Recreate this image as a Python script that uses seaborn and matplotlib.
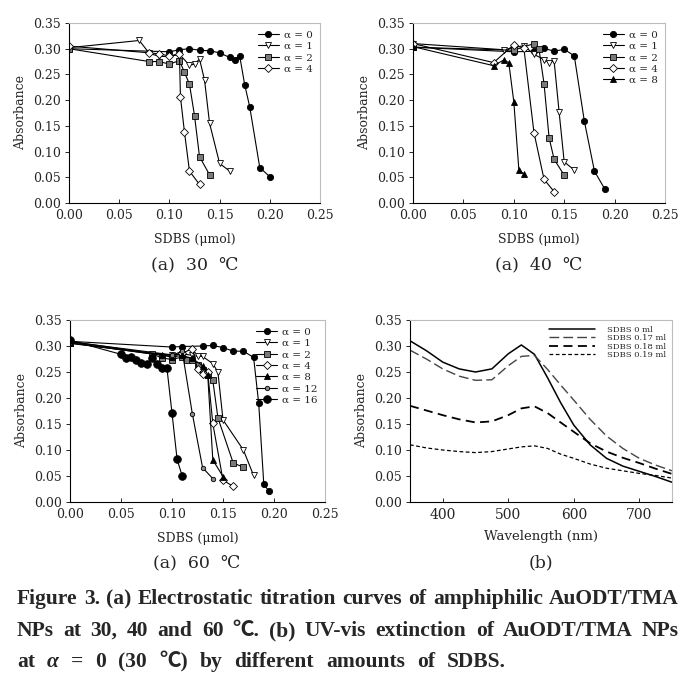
import pandas as pd
import matplotlib
matplotlib.use("Agg")
import matplotlib.pyplot as plt
import seaborn as sns

# ---- titration data, 30 C ----
x30_a0 = [0, 0.10, 0.11, 0.12, 0.13, 0.14, 0.15, 0.16, 0.165, 0.17, 0.175, 0.18, 0.19, 0.20]
y30_a0 = [0.300, 0.294, 0.298, 0.300, 0.297, 0.296, 0.292, 0.283, 0.279, 0.286, 0.230, 0.187, 0.069, 0.051]
x30_a1 = [0, 0.07, 0.08, 0.09, 0.10, 0.11, 0.12, 0.125, 0.13, 0.135, 0.14, 0.15, 0.16]
y30_a1 = [0.302, 0.316, 0.291, 0.285, 0.285, 0.289, 0.268, 0.270, 0.280, 0.239, 0.155, 0.077, 0.062]
x30_a2 = [0, 0.08, 0.09, 0.10, 0.11, 0.115, 0.12, 0.125, 0.13, 0.14]
y30_a2 = [0.300, 0.275, 0.275, 0.270, 0.277, 0.254, 0.231, 0.170, 0.090, 0.055]
x30_a4 = [0, 0.08, 0.09, 0.10, 0.11, 0.111, 0.115, 0.12, 0.13]
y30_a4 = [0.305, 0.292, 0.290, 0.286, 0.290, 0.206, 0.138, 0.062, 0.036]

# ---- titration data, 40 C ----
x40_a0 = [0, 0.10, 0.12, 0.13, 0.14, 0.15, 0.16, 0.17, 0.18, 0.19]
y40_a0 = [0.303, 0.294, 0.295, 0.301, 0.295, 0.299, 0.286, 0.159, 0.062, 0.028]
x40_a1 = [0, 0.09, 0.11, 0.12, 0.13, 0.135, 0.14, 0.145, 0.15, 0.16]
y40_a1 = [0.310, 0.298, 0.306, 0.289, 0.279, 0.273, 0.276, 0.176, 0.080, 0.064]
x40_a2 = [0, 0.10, 0.12, 0.125, 0.13, 0.135, 0.14, 0.15]
y40_a2 = [0.303, 0.297, 0.310, 0.299, 0.232, 0.127, 0.085, 0.054]
x40_a4 = [0, 0.08, 0.10, 0.11, 0.12, 0.13, 0.14]
y40_a4 = [0.310, 0.273, 0.308, 0.301, 0.137, 0.046, 0.022]
x40_a8 = [0, 0.08, 0.09, 0.095, 0.10, 0.105, 0.11]
y40_a8 = [0.304, 0.267, 0.278, 0.273, 0.197, 0.065, 0.056]

# ---- titration data, 60 C ----
x60_a0 = [0, 0.10, 0.11, 0.13, 0.14, 0.15, 0.16, 0.17, 0.18, 0.185, 0.19, 0.195]
y60_a0 = [0.309, 0.298, 0.299, 0.300, 0.301, 0.297, 0.290, 0.290, 0.278, 0.190, 0.034, 0.021]
x60_a1 = [0, 0.10, 0.11, 0.12, 0.125, 0.13, 0.14, 0.145, 0.15, 0.17, 0.18]
y60_a1 = [0.308, 0.283, 0.285, 0.282, 0.280, 0.280, 0.266, 0.250, 0.158, 0.100, 0.051]
x60_a2 = [0, 0.08, 0.09, 0.10, 0.11, 0.115, 0.12, 0.125, 0.13, 0.135, 0.14, 0.145, 0.16, 0.17]
y60_a2 = [0.306, 0.285, 0.277, 0.274, 0.279, 0.274, 0.274, 0.264, 0.253, 0.244, 0.234, 0.162, 0.075, 0.067]
x60_a4 = [0, 0.10, 0.11, 0.12, 0.125, 0.13, 0.135, 0.14, 0.15, 0.16]
y60_a4 = [0.309, 0.280, 0.286, 0.295, 0.255, 0.247, 0.250, 0.151, 0.042, 0.030]
x60_a8 = [0, 0.09, 0.10, 0.11, 0.12, 0.13, 0.135, 0.14, 0.15]
y60_a8 = [0.306, 0.282, 0.279, 0.282, 0.276, 0.262, 0.245, 0.081, 0.049]
x60_a12 = [0, 0.10, 0.11, 0.12, 0.13, 0.14]
y60_a12 = [0.305, 0.282, 0.290, 0.169, 0.066, 0.045]
x60_a16 = [0, 0.05, 0.055, 0.06, 0.065, 0.07, 0.075, 0.08, 0.085, 0.09, 0.095, 0.10, 0.105, 0.11]
y60_a16 = [0.311, 0.284, 0.277, 0.278, 0.274, 0.267, 0.265, 0.276, 0.266, 0.258, 0.258, 0.171, 0.082, 0.050]

# ---- UV-vis spectra (b) ----
wl = [350, 375, 400, 425, 450, 475, 500, 520, 540, 560, 580, 600, 625, 650, 675, 700, 725, 750]
abs_0 = [0.310, 0.291, 0.269, 0.256, 0.250, 0.256, 0.285, 0.302, 0.284, 0.239, 0.191, 0.148, 0.110, 0.084, 0.069, 0.059, 0.049, 0.038]
abs_17 = [0.292, 0.275, 0.256, 0.242, 0.234, 0.235, 0.262, 0.280, 0.282, 0.255, 0.225, 0.196, 0.159, 0.127, 0.103, 0.084, 0.071, 0.060]
abs_18 = [0.185, 0.176, 0.167, 0.159, 0.153, 0.155, 0.167, 0.180, 0.184, 0.171, 0.153, 0.135, 0.113, 0.097, 0.085, 0.075, 0.064, 0.054]
abs_19 = [0.110, 0.104, 0.100, 0.097, 0.095, 0.097, 0.102, 0.106, 0.108, 0.103, 0.092, 0.084, 0.073, 0.065, 0.060, 0.055, 0.051, 0.046]

markers = {
    "0": dict(marker="o", markerfacecolor="k", markersize=4.5),
    "1": dict(marker="v", markerfacecolor="white", markersize=5),
    "2": dict(marker="s", markerfacecolor="#7a7a7a", markersize=4.5),
    "4": dict(marker="D", markerfacecolor="white", markersize=3.8),
    "8": dict(marker="^", markerfacecolor="k", markersize=4.5),
    "12": dict(marker="o", markerfacecolor="#8a8a8a", markersize=3.2),
    "16": dict(marker="o", markerfacecolor="k", markersize=5.5),
}

sns.set_style("ticks")
plt.rcParams["font.family"] = ["DejaVu Serif", "DejaVu Sans"]

W, H = 692, 685
fig = plt.figure(figsize=(W / 100, H / 100), dpi=100)


def box(l, t, r, b):
    return [l / W, 1 - b / H, (r - l) / W, (b - t) / H]


def style_ax(ax):
    for s in ["top", "right"]:
        ax.spines[s].set_color("#bdbdbd")
        ax.spines[s].set_linewidth(0.8)
    for s in ["left", "bottom"]:
        ax.spines[s].set_color("k")
        ax.spines[s].set_linewidth(0.8)
    ax.tick_params(axis="x", direction="in", length=3, width=0.7, labelsize=9, pad=4)
    ax.tick_params(axis="y", direction="out", length=3, width=0.7, labelsize=9, pad=3)
    ax.set_ylim(0, 0.35)
    ax.set_yticks([0, 0.05, 0.10, 0.15, 0.20, 0.25, 0.30, 0.35])
    ax.set_yticklabels([f"{v:.2f}" for v in ax.get_yticks()])
    ax.set_ylabel("Absorbance", fontsize=9, labelpad=4)


def titration(ax, series):
    for key, xs, ys in series:
        df = pd.DataFrame({"x": xs, "y": ys})
        m = markers[key]
        sns.lineplot(data=df, x="x", y="y", ax=ax, color="k", linewidth=0.8,
                     estimator=None, sort=False, markeredgecolor="k",
                     markeredgewidth=0.6, label=f"α = {key}", **m)
    ax.set_xlim(0, 0.25)
    ax.set_xticks([0, 0.05, 0.10, 0.15, 0.20, 0.25])
    ax.set_xticklabels([f"{v:.2f}" for v in ax.get_xticks()])
    ax.set_xlabel("SDBS (μmol)", fontsize=9, labelpad=8)
    style_ax(ax)
    ax.legend(loc="upper right", frameon=False, fontsize=7.5, handlelength=2.0,
              labelspacing=0.2, borderaxespad=0.3, handletextpad=0.5)


ax1 = fig.add_axes(box(69, 23, 320, 203))
titration(ax1, [("0", x30_a0, y30_a0), ("1", x30_a1, y30_a1),
                ("2", x30_a2, y30_a2), ("4", x30_a4, y30_a4)])

ax2 = fig.add_axes(box(413, 23, 665, 203))
titration(ax2, [("0", x40_a0, y40_a0), ("1", x40_a1, y40_a1), ("2", x40_a2, y40_a2),
                ("4", x40_a4, y40_a4), ("8", x40_a8, y40_a8)])

ax3 = fig.add_axes(box(70, 320, 325, 502))
titration(ax3, [("0", x60_a0, y60_a0), ("1", x60_a1, y60_a1), ("2", x60_a2, y60_a2),
                ("4", x60_a4, y60_a4), ("8", x60_a8, y60_a8), ("12", x60_a12, y60_a12),
                ("16", x60_a16, y60_a16)])

ax4 = fig.add_axes(box(410, 320, 672, 502))
spectra = [("SDBS 0 ml", abs_0, "-", 1.1, "k"),
           ("SDBS 0.17 ml", abs_17, (0, (7, 3)), 1.0, "#444444"),
           ("SDBS 0.18 ml", abs_18, (0, (5, 3)), 1.3, "k"),
           ("SDBS 0.19 ml", abs_19, (0, (3, 2)), 0.9, "k")]
for name, vals, ls, lw, c in spectra:
    df = pd.DataFrame({"wl": wl, "a": vals})
    sns.lineplot(data=df, x="wl", y="a", ax=ax4, color=c, linewidth=lw,
                 linestyle=ls, estimator=None, sort=False, label=name)
ax4.set_xlim(350, 750)
ax4.set_xticks([400, 500, 600, 700])
ax4.set_xlabel("Wavelength (nm)", fontsize=9.5, labelpad=6)
style_ax(ax4)
ax4.tick_params(axis="x", labelsize=10)
ax4.legend(loc="upper right", frameon=False, fontsize=6, handlelength=5.5,
           labelspacing=0.05, borderaxespad=0.3, handletextpad=1.5)

# panel sub-captions
for cx, cy, txt in [(195, 265, "(a)  30  ℃"), (539, 265, "(a)  40  ℃"),
                    (197, 563, "(a)  60  ℃"), (541, 563, "(b)")]:
    fig.text(cx / W, 1 - cy / H, txt, ha="center", va="center", fontsize=12.5)

# figure caption, justified
renderer = fig.canvas.get_renderer()
cap_font = ["Liberation Serif", "Noto Sans CJK KR"]


def caption_line(words, y, x0, x1, fs):
    texts = []
    for w in words:
        style = "italic" if w == "α" else "normal"
        texts.append(fig.text(0, 1 - y / H, w, fontsize=fs, fontweight="bold",
                              fontstyle=style, family=cap_font, va="center", ha="left"))
    widths = [t.get_window_extent(renderer).width for t in texts]
    gap = (x1 - x0 - sum(widths)) / (len(words) - 1)
    x = x0
    for t, w in zip(texts, widths):
        t.set_x(x / W)
        x += w + gap


cap_fs = 15.5
caption_line("Figure 3. (a) Electrostatic titration curves of amphiphilic AuODT/TMA".split(),
             599, 17, 679, cap_fs)
caption_line("NPs at 30, 40 and 60 ℃. (b) UV-vis extinction of AuODT/TMA NPs".split(),
             631, 17, 679, cap_fs)
caption_line("at α = 0 (30 ℃) by different amounts of SDBS.".split(),
             662, 17, 506, cap_fs)

fig.savefig("out.png", dpi=100)
